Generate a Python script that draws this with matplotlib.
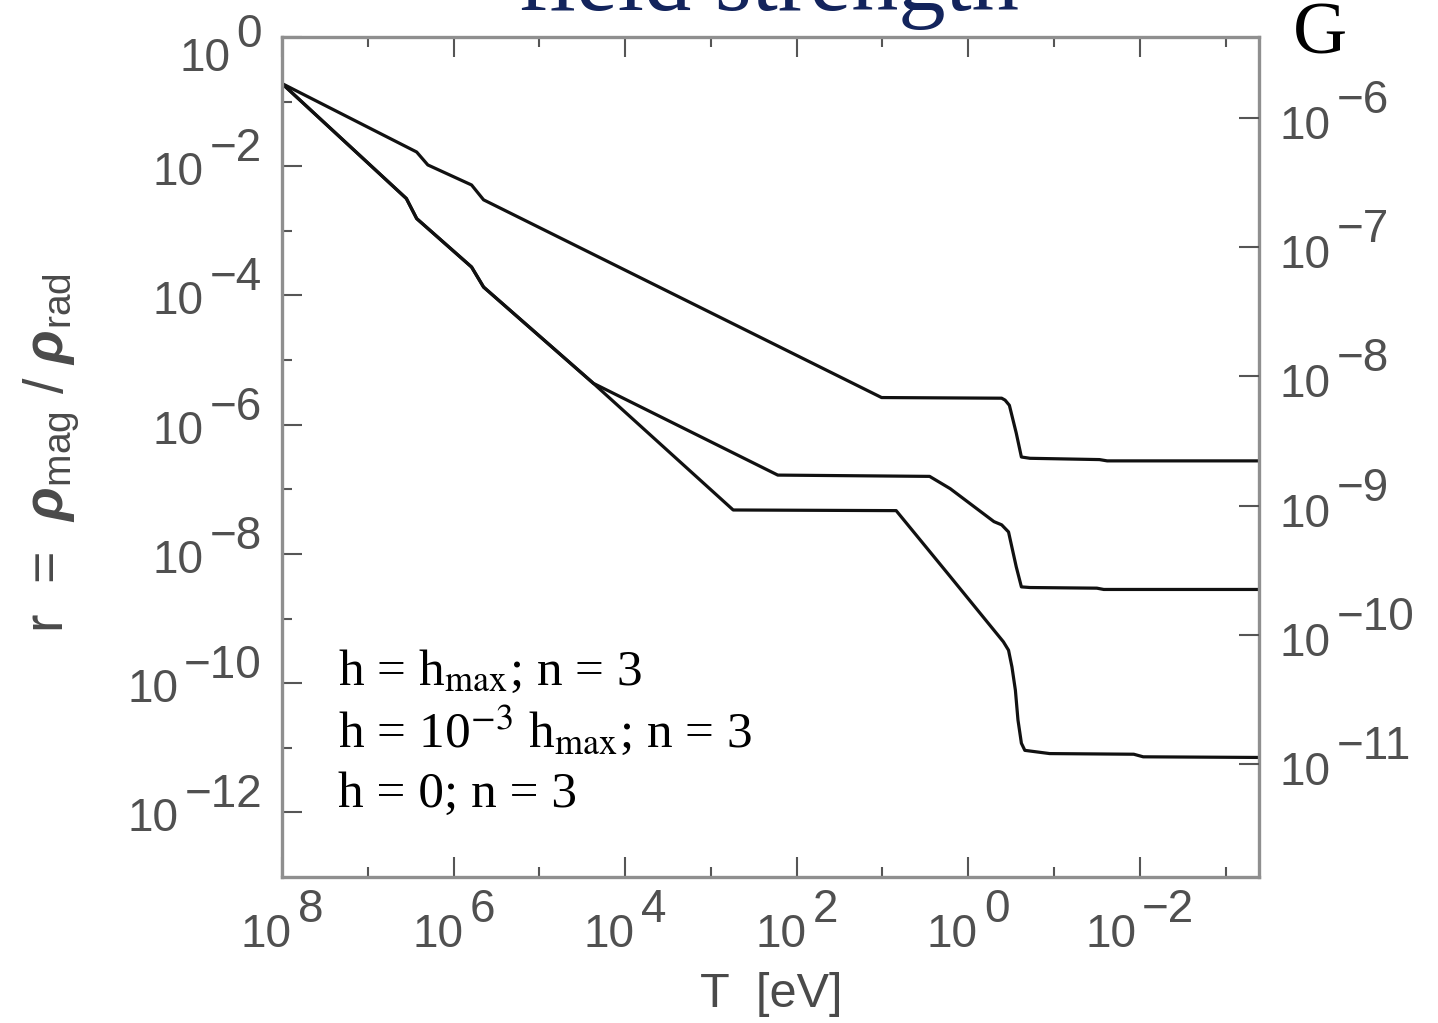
import numpy as np
import matplotlib
matplotlib.use("Agg")
import matplotlib.pyplot as plt

# ---------------- data (log10 values) ----------------
logT_top = [8.0, 6.43, 6.30, 5.79, 5.65, 1.01, -0.39, -0.43, -0.48, -0.56, -0.62, -0.72, -1.53, -1.62, -3.40]
logr_top = [-0.72, -1.78, -1.98, -2.29, -2.52, -5.58, -5.59, -5.62, -5.70, -6.13, -6.50, -6.52, -6.54, -6.56, -6.56]

logT_mid = [8.0, 6.55, 6.43, 5.79, 5.65, 4.37, 2.22, 0.45, 0.21, -0.30, -0.39, -0.47, -0.56, -0.62, -0.72, -1.50, -1.58, -3.40]
logr_mid = [-0.72, -2.50, -2.81, -3.56, -3.87, -5.36, -6.78, -6.80, -6.99, -7.50, -7.55, -7.66, -8.20, -8.51, -8.52, -8.53, -8.55, -8.55]

logT_bot = [8.0, 6.55, 6.43, 5.79, 5.65, 4.37, 2.74, 0.84, 0.21, -0.41, -0.47, -0.51, -0.55, -0.58, -0.62, -0.66, -0.95, -1.93, -2.04, -3.40]
logr_bot = [-0.72, -2.50, -2.81, -3.56, -3.87, -5.36, -7.32, -7.33, -8.35, -9.36, -9.49, -9.75, -10.11, -10.57, -10.93, -11.04, -11.09, -11.10, -11.14, -11.15]

x_tick_exps = [8, 6, 4, 2, 0, -2]
y_tick_exps = [0, -2, -4, -6, -8, -10, -12]
b_tick_exps = [-6, -7, -8, -9, -10, -11]

x_limits_log = (8.0, -3.39)
y_limits_log = (-13.0, 0.0)
# right axis anchor: B = 1e-6 G corresponds to r = 10^-1.254, B ~ sqrt(r)
B_anchor_logB, B_anchor_logr = -6.0, -1.254

legend_lines = [r"h = h$_{\mathrm{max}}$; n = 3",
                r"h = 10$^{\mathrm{-3}}$ h$_{\mathrm{max}}$; n = 3",
                r"h = 0; n = 3"]
title_text = "field strength"
unit_text = "G"
xlabel_text = "T  [eV]"
ylabel_text = r"r  =  $\mathbfit{\rho}_{\mathrm{mag}}$ / $\mathbfit{\rho}_{\mathrm{rad}}$"

# ---------------- style ----------------
plt.rcParams["font.family"] = ["Liberation Sans", "DejaVu Sans"]
plt.rcParams["mathtext.fontset"] = "custom"
plt.rcParams["mathtext.rm"] = "Liberation Sans"
plt.rcParams["mathtext.it"] = "Liberation Sans:italic"
plt.rcParams["mathtext.bf"] = "Liberation Sans:bold"
try:
    plt.rcParams["mathtext.bfit"] = "Liberation Sans:italic:bold"
except KeyError:
    ylabel_text = r"r  =  $\rho_{\mathrm{mag}}$ / $\rho_{\mathrm{rad}}$"

W, H, DPI = 1438, 1023, 100
fig = plt.figure(figsize=(W / DPI, H / DPI), dpi=DPI)
fig.patch.set_facecolor("white")

ax = fig.add_axes([282 / W, 1 - 877 / H, (1259 - 282) / W, (877 - 37) / H])
ax.set_xscale("log")
ax.set_yscale("log")
ax.set_xlim(10 ** x_limits_log[0], 10 ** x_limits_log[1])
ax.set_ylim(10 ** y_limits_log[0], 10 ** y_limits_log[1])

line_kw = dict(color="#111111", lw=2.3, solid_joinstyle="round")
for lt, lr in [(logT_top, logr_top), (logT_mid, logr_mid), (logT_bot, logr_bot)]:
    ax.plot(10 ** np.array(lt), 10 ** np.array(lr), **line_kw)

spine_col = "#8f8f8f"
tick_col = "#555555"
for s in ax.spines.values():
    s.set_color(spine_col)
    s.set_linewidth(2.4)

x_major = [10.0 ** e for e in x_tick_exps]
x_minor = [10.0 ** e for e in range(7, -4, -2)]
y_major = [10.0 ** e for e in y_tick_exps]
y_minor = [10.0 ** e for e in range(-1, -13, -2)]
ax.xaxis.set_major_locator(matplotlib.ticker.FixedLocator(x_major))
ax.xaxis.set_minor_locator(matplotlib.ticker.FixedLocator(x_minor))
ax.yaxis.set_major_locator(matplotlib.ticker.FixedLocator(y_major))
ax.yaxis.set_minor_locator(matplotlib.ticker.FixedLocator(y_minor))
ax.tick_params(axis="both", which="both", direction="in", color=tick_col, width=1.5,
               labelleft=False, labelbottom=False, top=True, bottom=True, left=True, right=False)
ax.tick_params(which="major", length=14.4)
ax.tick_params(which="minor", length=7.2)

ax2 = ax.twinx()
ax2.set_yscale("log")
lo = B_anchor_logB + (y_limits_log[0] - B_anchor_logr) / 2
hi = B_anchor_logB + (y_limits_log[1] - B_anchor_logr) / 2
ax2.set_ylim(10 ** lo, 10 ** hi)
ax2.yaxis.set_major_locator(matplotlib.ticker.FixedLocator([10.0 ** e for e in b_tick_exps]))
ax2.yaxis.set_minor_locator(matplotlib.ticker.NullLocator())
ax2.tick_params(axis="y", which="major", direction="in", color=tick_col, width=1.5,
                length=14.4, labelright=False)
for s in ax2.spines.values():
    s.set_visible(False)

# ---------------- tick labels: "10" plus full-size exponent ----------------
lab_kw = dict(fontsize=33, color="#505050", family="Liberation Sans",
              textcoords="offset points", ha="left", va="baseline", annotation_clip=False)

def exp_str(e):
    return str(e).replace("-", "\u2212")

labels = []
for e in y_tick_exps:
    tr = ax.get_yaxis_transform()
    b = ax.annotate("10", xy=(0, 10.0 ** e), xycoords=tr, xytext=(0, 0), **lab_kw)
    x = ax.annotate(exp_str(e), xy=(0, 10.0 ** e), xycoords=tr, xytext=(0, 0), **lab_kw)
    dyb, dye = (-34, -10) if e == 0 else (-19, 5)
    labels.append((b, x, "left", dyb, dye))
for e in b_tick_exps:
    tr = ax2.get_yaxis_transform()
    b = ax2.annotate("10", xy=(1, 10.0 ** e), xycoords=tr, xytext=(0, 0), **lab_kw)
    x = ax2.annotate(exp_str(e), xy=(1, 10.0 ** e), xycoords=tr, xytext=(0, 0), **lab_kw)
    labels.append((b, x, "right", -21, 5))
for e in x_tick_exps:
    tr = ax.get_xaxis_transform()
    b = ax.annotate("10", xy=(10.0 ** e, 0), xycoords=tr, xytext=(0, 0), **lab_kw)
    x = ax.annotate(exp_str(e), xy=(10.0 ** e, 0), xycoords=tr, xytext=(0, 0), **lab_kw)
    labels.append((b, x, "bottom", -70, -45))

# ---------------- other texts ----------------
fig.text(768 / W, 1 - 10 / H, title_text, fontsize=68, family="Liberation Serif",
         color="#13245c", ha="center", va="baseline")
fig.text(1293 / W, 1 - 53 / H, unit_text, fontsize=54, family="Liberation Serif",
         color="black", ha="left", va="baseline")
for i, (t, yb) in enumerate(zip(legend_lines, [685, 747, 807])):
    fig.text(338 / W, 1 - yb / H, t, fontsize=37, family="Liberation Serif",
             math_fontfamily="stix", color="black", ha="left", va="baseline")
fig.text(771 / W, 1 - 1007 / H, xlabel_text, fontsize=35, color="#4a4a4a",
         ha="center", va="baseline")
fig.text(52 / W, 1 - 453 / H, ylabel_text, fontsize=40, color="#4a4a4a",
         rotation=90, ha="center", va="center")

# position tick-label parts after measuring their widths
fig.canvas.draw()
r = fig.canvas.get_renderer()
p2pt = 72.0 / DPI
gap = 6
for b, x, kind, dyb, dye in labels:
    wb = b.get_window_extent(r).width
    we = x.get_window_extent(r).width
    if kind == "left":
        xe = -20 - we
        xb = xe - gap - wb
    elif kind == "right":
        xb = 21
        xe = xb + wb + gap
    else:
        tot = wb + gap + we
        xb = -tot / 2
        xe = xb + wb + gap
    b.xyann = (xb * p2pt, dyb * p2pt)
    x.xyann = (xe * p2pt, dye * p2pt)

fig.savefig("out.png", dpi=DPI, facecolor="white")
